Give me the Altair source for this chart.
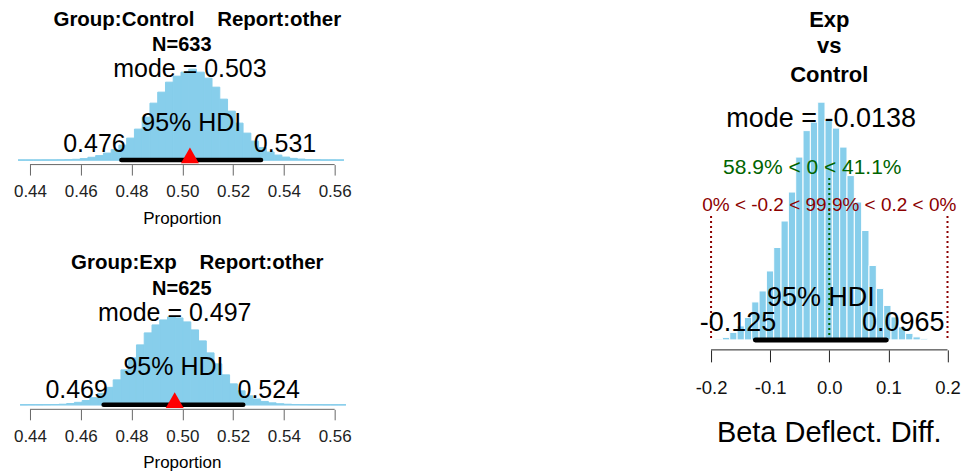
import altair as alt
import pandas as pd

FONT = "Liberation Sans"
SKY = "#87CEEB"
NB = "\u00a0"

# ---------------- data ----------------
# Control group: posterior of proportion
ctrl_bin_start = 0.4353
ctrl_bin_width = 0.003056
ctrl_counts = [0, 0, 0, 0.1, 0.1, 0.2, 0.4, 0.8, 1.5, 2.8, 4.5, 7, 10.5, 15, 22, 31,
               43, 57, 68, 78, 84, 88, 91, 88, 82, 73, 61, 49, 37, 27, 19, 12.5,
               8, 5, 3, 1.7, 1, 0.5, 0.3, 0.1, 0.1, 0]
ctrl_mode = 0.503
ctrl_hdi = [0.476, 0.531]
ctrl_n = 633

# Exp group: posterior of proportion
exp_bin_start = 0.4361
exp_bin_width = 0.003056
exp_counts = [0, 0.1, 0.1, 0.2, 0.3, 0.6, 1.3, 2.5, 4.3, 7.2, 11.5, 17.5, 25, 35, 47, 60,
              72, 80, 85, 88, 87, 83, 75, 64, 52, 41, 30, 21, 14, 9, 5.8, 3.4,
              2, 1.1, 0.6, 0.3, 0.2, 0.1, 0.1, 0, 0, 0]
exp_mode = 0.497
exp_hdi = [0.469, 0.524]
exp_n = 625

# Difference (Exp vs Control)
diff_bin_start = -0.1932
diff_bin_width = 0.0124
diff_counts = [0.8, 2.5, 7.5, 14, 22.5, 38, 49, 69, 92.5, 119, 148, 183, 209.5, 218, 238,
               220, 212, 193, 164.5, 138, 109.5, 74.5, 51.5, 34.5, 23, 13, 6.5, 3, 1.2]
diff_mode = -0.0138
diff_hdi = [-0.125, 0.0965]
comp_val = 0
comp_pct = ["58.9%", "41.1%"]
rope = [-0.2, 0.2]
rope_pct = ["0%", "99.9%", "0%"]

prop_ticks = [0.44, 0.46, 0.48, 0.50, 0.52, 0.54, 0.56]
diff_ticks = [-0.2, -0.1, 0.0, 0.1, 0.2]


def hist_df(start, width, counts):
    lo = [start + i * width for i in range(len(counts))]
    return pd.DataFrame({"lo": lo, "hi": [v + width for v in lo], "count": counts})


def text_layer(xs, ax, xval, y, text, size, bold=False, color="black", dx=0):
    df = pd.DataFrame({"x": [xval], "t": [text]})
    return alt.Chart(df).mark_text(
        fontSize=size, fontWeight="bold" if bold else "normal", color=color,
        dx=dx, baseline="middle", align="center", font=FONT
    ).encode(x=alt.X("x:Q", scale=xs, axis=ax), y=alt.value(y), text="t:N")


def text_px(xpix, y, text, size, bold=False, color="black"):
    df = pd.DataFrame({"t": [text]})
    return alt.Chart(df).mark_text(
        fontSize=size, fontWeight="bold" if bold else "normal", color=color,
        baseline="middle", align="center", font=FONT
    ).encode(x=alt.value(xpix), y=alt.value(y), text="t:N")


def prop_panel(start, width, counts, mode, hdi, n, group, H, ty, dxs):
    W = 350
    xs = alt.Scale(domain=[0.431344, 0.569044], nice=False, zero=False)
    ys = alt.Scale(domain=[0, H], nice=False, zero=False)
    ax = alt.Axis(
        values=prop_ticks, format=".2f", domain=False, grid=False, title=None,
        tickSize=10.5, tickColor="#666", tickWidth=1, offset=4.5,
        labelFontSize=17, labelColor="#222", labelFont=FONT, labelPadding=8.7,
        labelFlush=False, labelOverlap=False)
    df = hist_df(start, width, counts)
    bars = alt.Chart(df).mark_rect(color=SKY, stroke=SKY, strokeWidth=1).encode(
        x=alt.X("lo:Q", scale=xs, axis=ax),
        x2="hi:Q",
        y=alt.Y("count:Q", scale=ys, axis=None),
        y2=alt.datum(0),
    )
    base = alt.Chart(pd.DataFrame({"a": [df["lo"].iloc[0]], "b": [df["hi"].iloc[-1]]})).mark_rule(
        color=SKY, strokeWidth=1).encode(x=alt.X("a:Q", scale=xs, axis=ax), x2="b:Q", y=alt.value(H))
    axis_line = alt.Chart(pd.DataFrame({"a": [prop_ticks[0]], "b": [prop_ticks[-1]]})).mark_rule(
        color="#666", strokeWidth=1).encode(x=alt.X("a:Q", scale=xs, axis=ax), x2="b:Q", y=alt.value(H + 4.5))
    hdi_bar = alt.Chart(pd.DataFrame({"a": [hdi[0]], "b": [hdi[1]]})).mark_rule(
        color="black", strokeWidth=4.5, strokeCap="round").encode(
        x=alt.X("a:Q", scale=xs, axis=ax), x2="b:Q", y=alt.value(H))
    tri = alt.Chart(pd.DataFrame({"m": [mode]})).mark_point(
        shape="triangle-up", filled=True, color="red", opacity=1, size=324).encode(
        x=alt.X("m:Q", scale=xs, axis=ax), y=alt.value(H - 4.7))
    texts = [
        text_px(189.5, ty[0], f"Group:{group}{NB*4}Report:other", 20.5, bold=True),
        text_px(174, ty[1], f"N={n}", 20, bold=True),
        text_layer(xs, ax, mode, ty[2], f"mode = {mode}", 25),
        text_layer(xs, ax, (hdi[0] + hdi[1]) / 2, ty[3], "95% HDI", 25),
        text_layer(xs, ax, hdi[0], ty[4], f"{hdi[0]}", 25, dx=dxs[0]),
        text_layer(xs, ax, hdi[1], ty[4], f"{hdi[1]}", 25, dx=dxs[1]),
        text_layer(xs, ax, 0.50, H + 58.5, "Proportion", 17),
    ]
    return alt.layer(bars, base, *texts, hdi_bar, tri, axis_line).properties(width=W, height=H)


top = prop_panel(ctrl_bin_start, ctrl_bin_width, ctrl_counts, ctrl_mode, ctrl_hdi, ctrl_n,
                 "Control", 152, [11.5, 36.5, 61, 115, 136], [-27, 24])
bottom = prop_panel(exp_bin_start, exp_bin_width, exp_counts, exp_mode, exp_hdi, exp_n,
                    "Exp", 160, [18.5, 44.5, 68, 122, 145.5], [-27, 25.5])

# ---------------- difference panel ----------------
HC = 332
WC = 262
xs_c = alt.Scale(domain=[-0.24056, 0.20223], nice=False, zero=False)
ys_c = alt.Scale(domain=[0, HC], nice=False, zero=False)
ax_c = alt.Axis(
    values=diff_ticks, domain=False, grid=False, title=None,
    labelExpr="replace(format(datum.value, '.1f'), '\u2212', '-')",
    tickSize=12, tickColor="#222", tickWidth=1, offset=10,
    labelFontSize=18.5, labelColor="#111", labelFont=FONT, labelPadding=16.8,
    labelFlush=False, labelOverlap=False)
ddf = hist_df(diff_bin_start, diff_bin_width, diff_counts)
dbars = alt.Chart(ddf).mark_rect(color=SKY, stroke="white", strokeWidth=1).encode(
    x=alt.X("lo:Q", scale=xs_c, axis=ax_c),
    x2="hi:Q",
    y=alt.Y("count:Q", scale=ys_c, axis=None),
    y2=alt.datum(0),
)
comp_line = alt.Chart(pd.DataFrame({"c": [comp_val]})).mark_rule(
    color="#006400", strokeWidth=2, strokeDash=[2, 3]).encode(
    x=alt.X("c:Q", scale=xs_c, axis=ax_c), y=alt.value(170), y2=alt.value(HC))
rope_lines = alt.Chart(pd.DataFrame({"r": rope})).mark_rule(
    color="#8B0000", strokeWidth=2, strokeDash=[2, 3]).encode(
    x=alt.X("r:Q", scale=xs_c, axis=ax_c), y=alt.value(208), y2=alt.value(HC))
d_axis = alt.Chart(pd.DataFrame({"a": [diff_ticks[0]], "b": [diff_ticks[-1]]})).mark_rule(
    color="#222", strokeWidth=1).encode(x=alt.X("a:Q", scale=xs_c, axis=ax_c), x2="b:Q",
                                        y=alt.value(HC + 10))
d_hdi = alt.Chart(pd.DataFrame({"a": [diff_hdi[0]], "b": [diff_hdi[1]]})).mark_rule(
    color="black", strokeWidth=5, strokeCap="round").encode(
    x=alt.X("a:Q", scale=xs_c, axis=ax_c), x2="b:Q", y=alt.value(HC))
d_texts = [
    text_layer(xs_c, ax_c, comp_val, 12, "Exp", 22, bold=True),
    text_layer(xs_c, ax_c, comp_val, 37.8, "vs", 22, bold=True),
    text_layer(xs_c, ax_c, comp_val, 66.6, "Control", 22, bold=True),
    text_layer(xs_c, ax_c, diff_mode, 110.6, f"mode = {diff_mode}", 27),
    text_layer(xs_c, ax_c, comp_val, 160, f"{comp_pct[0]} < {comp_val} < {comp_pct[1]}", 21,
               color="#006400", dx=-17),
    text_layer(xs_c, ax_c, comp_val, 196.5,
               f"{rope_pct[0]} < {rope[0]} < {rope_pct[1]} < {rope[1]} < {rope_pct[2]}", 19,
               color="#8B0000"),
    text_layer(xs_c, ax_c, (diff_hdi[0] + diff_hdi[1]) / 2, 290.3, "95% HDI", 27),
    text_layer(xs_c, ax_c, diff_hdi[0], 315.3, f"{diff_hdi[0]}", 27, dx=-17.5),
    text_layer(xs_c, ax_c, diff_hdi[1], 315.3, f"{diff_hdi[1]}", 27, dx=17),
    text_layer(xs_c, ax_c, comp_val, HC + 93.7, "Beta Deflect. Diff.", 29),
]
right = alt.layer(dbars, comp_line, rope_lines, *d_texts, d_hdi, d_axis).properties(width=WC, height=HC)

left = alt.vconcat(top, bottom, spacing=85, bounds="flush")
chart = alt.hconcat(left, right, spacing=679.8, bounds="flush", padding=0).configure(
    font=FONT).configure_view(stroke=None)

chart.save("out.html", embed_options={"renderer": "svg", "actions": False})
